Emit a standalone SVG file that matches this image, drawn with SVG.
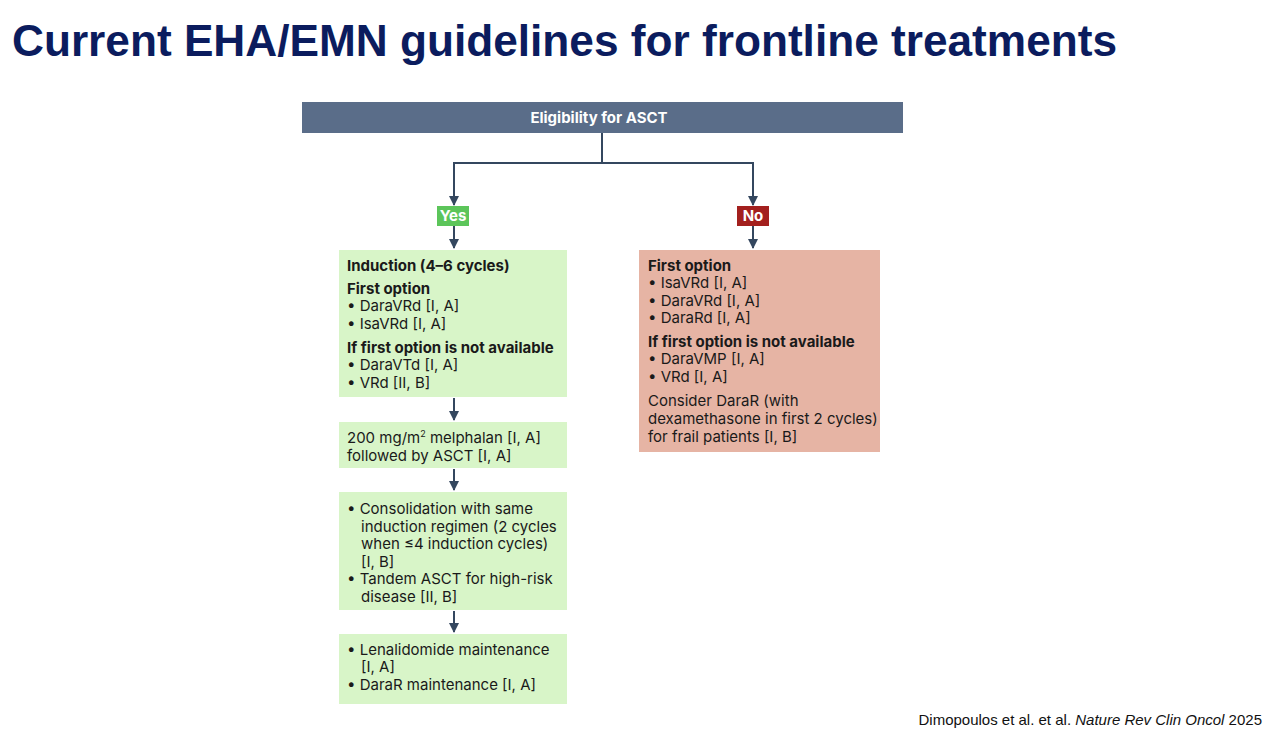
<svg xmlns="http://www.w3.org/2000/svg" width="1284" height="732" viewBox="0 0 1284 732">
<style>
.t{font-family:Inter,"Liberation Sans",sans-serif;font-size:15px;fill:#1a1a1a}
.b{font-weight:700}
.w{fill:#fff}
.g{fill:#d8f5c8}
.r{fill:#e6b4a4}
.c{stroke:#34475f;stroke-width:2;fill:none}
</style>
<defs>
<marker id="ah" viewBox="0 0 10 10" refX="9" refY="5" markerWidth="5" markerHeight="5" orient="auto"><path d="M0,0L10,5L0,10z" fill="#34475f"/></marker>
</defs>
<rect width="1284" height="732" fill="#fff"/>
<text x="12" y="56" font-family="Liberation Sans,Arial,sans-serif" font-weight="700" font-size="44" fill="#0b1c5e" textLength="1105" lengthAdjust="spacingAndGlyphs">Current EHA/EMN guidelines for frontline treatments</text>

<g id="connectors">
<path class="c" d="M602,133V163H454V205" marker-end="url(#ah)"/>
<path class="c" d="M602,163H753V205" marker-end="url(#ah)"/>
<path class="c" d="M454,226V248" marker-end="url(#ah)"/>
<path class="c" d="M753,226V248" marker-end="url(#ah)"/>
<path class="c" d="M454,398V420" marker-end="url(#ah)"/>
<path class="c" d="M454,469V490" marker-end="url(#ah)"/>
<path class="c" d="M454,611V632" marker-end="url(#ah)"/>
</g>

<g id="header">
<rect x="302" y="102" width="601" height="31" fill="#5a6d89"/>
<text x="599" y="123" text-anchor="middle" class="t b w">Eligibility for ASCT</text>
</g>
<g id="yes">
<rect x="437" y="206" width="32" height="20" fill="#5cc55a"/>
<text x="453" y="221" text-anchor="middle" class="t b w">Yes</text>
</g>
<g id="no">
<rect x="737" y="206" width="32" height="20" fill="#a3201e"/>
<text x="753" y="221" text-anchor="middle" class="t b w">No</text>
</g>

<g id="induction">
<rect class="g" x="339" y="250" width="228" height="147"/>
<text class="t b" x="347" y="271">Induction (4–6 cycles)</text>
<text class="t b" x="347" y="294">First option</text>
<text class="t" x="347" y="311">• DaraVRd [I, A]</text>
<text class="t" x="347" y="329">• IsaVRd [I, A]</text>
<text class="t b" x="347" y="353">If first option is not available</text>
<text class="t" x="347" y="370">• DaraVTd [I, A]</text>
<text class="t" x="347" y="388">• VRd [II, B]</text>
</g>

<g id="melphalan">
<rect class="g" x="339" y="422" width="228" height="46"/>
<text class="t" x="347" y="443">200 mg/m<tspan font-size="9" dy="-6">2</tspan><tspan dy="6"> melphalan [I, A]</tspan></text>
<text class="t" x="347" y="461">followed by ASCT [I, A]</text>
</g>

<g id="consolidation">
<rect class="g" x="339" y="492" width="228" height="118"/>
<text class="t" x="347" y="514">• Consolidation with same</text>
<text class="t" x="361" y="532">induction regimen (2 cycles</text>
<text class="t" x="361" y="549">when ≤4 induction cycles)</text>
<text class="t" x="361" y="567">[I, B]</text>
<text class="t" x="347" y="584">• Tandem ASCT for high-risk</text>
<text class="t" x="361" y="602">disease [II, B]</text>
</g>

<g id="maintenance">
<rect class="g" x="339" y="634" width="228" height="70"/>
<text class="t" x="347" y="655">• Lenalidomide maintenance</text>
<text class="t" x="361" y="672">[I, A]</text>
<text class="t" x="347" y="690">• DaraR maintenance [I, A]</text>
</g>

<g id="noelig">
<rect class="r" x="639" y="250" width="241" height="202"/>
<text class="t b" x="648" y="271">First option</text>
<text class="t" x="648" y="288">• IsaVRd [I, A]</text>
<text class="t" x="648" y="306">• DaraVRd [I, A]</text>
<text class="t" x="648" y="323">• DaraRd [I, A]</text>
<text class="t b" x="648" y="347">If first option is not available</text>
<text class="t" x="648" y="364">• DaraVMP [I, A]</text>
<text class="t" x="648" y="382">• VRd [I, A]</text>
<text class="t" x="648" y="406">Consider DaraR (with</text>
<text class="t" x="648" y="424">dexamethasone in first 2 cycles)</text>
<text class="t" x="648" y="442">for frail patients [I, B]</text>
</g>

<text x="1262" y="725" text-anchor="end" font-family="Liberation Sans,Arial,sans-serif" font-size="15" fill="#111">Dimopoulos et al. et al. <tspan font-style="italic">Nature Rev Clin Oncol</tspan> 2025</text>
</svg>
